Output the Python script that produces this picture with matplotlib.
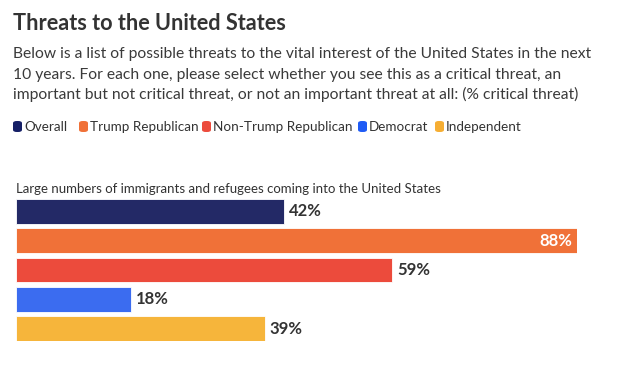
import matplotlib
matplotlib.use("Agg")
import matplotlib.pyplot as plt
from matplotlib.patches import FancyBboxPatch

plt.rcParams['font.family'] = ['Lato', 'DejaVu Sans']

# data
title = "Threats to the United States"
subtitle_lines = [
    "Below is a list of possible threats to the vital interest of the United States in the next",
    "10 years. For each one, please select whether you see this as a critical threat, an",
    "important but not critical threat, or not an important threat at all: (% critical threat)",
]
question = "Large numbers of immigrants and refugees coming into the United States"
groups = ["Overall", "Trump Republican", "Non-Trump Republican", "Democrat", "Independent"]
values = [42, 88, 59, 18, 39]
colors = ["#232966", "#F07138", "#EC4B3C", "#3B6CF0", "#F6B53B"]
legend_colors = ["#151F66", "#F07138", "#EC4B3C", "#1F5BF5", "#F6AE33"]

W, H = 627, 369
fig = plt.figure(figsize=(W / 100, H / 100), dpi=100)
text_col = "#333333"

def fy(px):
    return 1 - px / H

fig.text(13 / W, fy(30), title, fontsize=15.6, fontweight='bold', color=text_col, va='baseline')
for k, line in enumerate(subtitle_lines):
    fig.text(13 / W, fy(58 + 20.5 * k), line, fontsize=11.25, color="#3a3a3a", va='baseline')

# legend, squares at the reference's positions
legend_x = [13, 79, 202, 358, 435]
for x, g, c in zip(legend_x, groups, legend_colors):
    sq = FancyBboxPatch((x / W, fy(132)), 9 / W, 11 / H, boxstyle="round,pad=0,rounding_size=0.006",
                        transform=fig.transFigure, facecolor=c, edgecolor='none')
    fig.patches.append(sq)
    fig.text((x + 11) / W, fy(127), g, fontsize=9.7, color=text_col, va='center')

fig.text(16 / W, fy(193), question, fontsize=9.5, color=text_col, va='baseline')

ax = fig.add_axes([16 / W, fy(341), (577 - 16) / W, (341 - 199) / H])
ypos = list(range(len(values)))
ax.barh(ypos, values, height=0.85, color=colors, edgecolor='#ffffff', linewidth=0.6)
ax.set_xlim(0, 88)
ax.set_ylim(len(values) - 1 + 0.4235, -0.4235)
ax.axis('off')

for i, v in enumerate(values):
    if v > 80:
        ax.text(v - 0.8, i, f"{v}%", color='white', fontsize=12, fontweight='bold', ha='right', va='center')
    else:
        ax.text(v + 0.8, i, f"{v}%", color=text_col, fontsize=12, fontweight='bold', ha='left', va='center')

fig.savefig("out.png", dpi=100, facecolor='white')
